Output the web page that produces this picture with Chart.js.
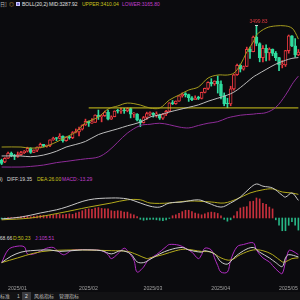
<!DOCTYPE html>
<html><head><meta charset="utf-8">
<script src="https://cdn.jsdelivr.net/npm/chart.js@4/dist/chart.umd.min.js"></script>
<style>
html,body{margin:0;padding:0;background:#0b0b0e;width:300px;height:300px;overflow:hidden;position:relative;}
.t{position:absolute;white-space:nowrap;font-family:"Liberation Sans",Arial,sans-serif;font-size:5px;line-height:6px;color:#d8d8d8;}
.c{font-family:"Noto Sans CJK SC","Liberation Sans",sans-serif;}
canvas{position:absolute;left:0;}
</style></head><body>
<div class="t c" style="left:0;top:1px;color:#bbb">日]</div>
<div class="t c" style="left:9px;top:1px;color:#d9a441">◎</div>
<div style="position:absolute;left:16px;top:1.5px;width:4px;height:4px;background:#7b6fd6;border:0.5px solid #c9c3ff;box-sizing:border-box"></div>
<div class="t" style="left:22px;top:1px;color:#e6e6e6">BOLL(20,2)</div>
<div class="t" style="left:49px;top:1px;color:#e0e0e0">MID:3287.92</div>
<div class="t" style="left:82px;top:1px;color:#c9c31c">UPPER:3410.04</div>
<div class="t" style="left:122px;top:1px;color:#c23fd0">LOWER:3165.80</div>

<canvas id="main" width="300" height="164" style="top:10px;width:300px;height:164px"></canvas>
<div id="peak" class="t" style="color:#e8383f"></div>
<div id="lead" style="position:absolute;height:0;border-top:0.6px solid #cfcfcf"></div>

<div class="t" style="left:-32px;top:176px;color:#d8d8d8">MACD(12,26,9)</div>
<div class="t" style="left:7px;top:176px;color:#d8d8d8">DIFF:19.35</div>
<div class="t" style="left:37px;top:176px;color:#c9c31c">DEA:26.00</div>
<div class="t" style="left:62px;top:176px;color:#c23fd0">MACD:-13.29</div>
<canvas id="macd" width="300" height="49" style="top:183px;width:300px;height:49px"></canvas>

<div class="t" style="left:-5px;top:235px;color:#d8d8d8">K:68.66</div>
<div class="t" style="left:13px;top:235px;color:#c9c31c">D:50.23</div>
<div class="t" style="left:35px;top:235px;color:#c23fd0">J:105.51</div>
<canvas id="kdj" width="300" height="51" style="top:242px;width:300px;height:51px"></canvas>

<div style="position:absolute;left:0;top:292px;width:300px;height:8px;background:#121214"></div>
<div style="position:absolute;left:22px;top:292px;width:9px;height:8px;background:#3a3a3e"></div>
<div class="t c" style="left:0;top:293px;color:#bdbdbd">标准</div>
<div class="t" style="left:17px;top:293px;color:#bdbdbd">1</div>
<div class="t" style="left:25px;top:293px;color:#e0e0e0">2</div>
<div class="t c" style="left:34px;top:293px;color:#bdbdbd">风格指标</div>
<div class="t c" style="left:59px;top:293px;color:#bdbdbd">管理指标</div>

<script>
const dates=['2024/12/30','2024/12/31',
'2025/01/02','2025/01/03','2025/01/06','2025/01/07','2025/01/08','2025/01/09','2025/01/10','2025/01/13','2025/01/14','2025/01/15','2025/01/16','2025/01/17','2025/01/20','2025/01/21','2025/01/22','2025/01/23','2025/01/24','2025/01/27','2025/01/28','2025/01/29','2025/01/30','2025/01/31',
'2025/02/03','2025/02/04','2025/02/05','2025/02/06','2025/02/07','2025/02/10','2025/02/11','2025/02/12','2025/02/13','2025/02/14','2025/02/17','2025/02/18','2025/02/19','2025/02/20','2025/02/21','2025/02/24','2025/02/25','2025/02/26','2025/02/27','2025/02/28',
'2025/03/03','2025/03/04','2025/03/05','2025/03/06','2025/03/07','2025/03/10','2025/03/11','2025/03/12','2025/03/13','2025/03/14','2025/03/17','2025/03/18','2025/03/19','2025/03/20','2025/03/21','2025/03/24','2025/03/25','2025/03/26','2025/03/27','2025/03/28','2025/03/31',
'2025/04/01','2025/04/02','2025/04/03','2025/04/04','2025/04/07','2025/04/08','2025/04/09','2025/04/10','2025/04/11','2025/04/14','2025/04/15','2025/04/16','2025/04/17','2025/04/21','2025/04/22','2025/04/23','2025/04/24','2025/04/25','2025/04/28','2025/04/29','2025/04/30',
'2025/05/01','2025/05/02','2025/05/05','2025/05/06','2025/05/07','2025/05/08','2025/05/09'];
const monthLabels=['2025/01','2025/02','2025/03','2025/04','2025/05'];

const openP=[2612,2600,2624,2658,2640,2636,2648,2661,2670,2690,2663,2677,2697,2715,2703,2708,2745,2755,2754,2771,2740,2763,2760,2794,
2798,2815,2843,2867,2856,2861,2908,2898,2905,2928,2882,2898,2935,2934,2939,2936,2951,2915,2916,2876,
2858,2893,2918,2920,2910,2910,2889,2916,2934,2989,2984,3001,3035,3048,3044,3023,3011,3020,3019,3058,3085,
3124,3114,3133,3114,3037,2983,2982,3082,3175,3237,3211,3229,3343,3327,3424,3381,3288,3349,3319,3344,3316,
3288,3239,3240,3334,3431,3365,3306];
const highP=[2618,2629,2665,2665,2650,2665,2670,2675,2697,2694,2680,2700,2724,2716,2711,2745,2763,2760,2786,2772,2765,2770,2800,2817,
2830,2845,2882,2870,2886,2911,2942,2910,2935,2942,2904,2937,2947,2955,2954,2956,2956,2925,2918,2882,
2900,2928,2930,2925,2930,2915,2920,2940,2990,3005,3002,3038,3055,3057,3047,3030,3035,3033,3060,3087,3128,
3149,3135,3167,3135,3055,3020,3099,3180,3245,3245,3233,3357,3358,3430,3499.83,3386,3367,3372,3352,3345,3328,
3290,3269,3336,3437,3434,3414,3341];
const lowP=[2582,2595,2621,2634,2615,2630,2643,2655,2665,2656,2661,2668,2692,2698,2697,2700,2742,2740,2751,2730,2737,2750,2753,2791,
2772,2810,2840,2834,2853,2860,2880,2864,2900,2877,2880,2897,2922,2919,2920,2930,2890,2894,2870,2832,
2856,2880,2905,2895,2895,2880,2880,2905,2930,2978,2980,2999,3027,3028,2999,3004,3010,3011,3015,3055,3076,
3100,3105,3054,3015,2970,2957,2970,3073,3170,3193,3205,3228,3283,3326,3366,3260,3260,3266,3270,3300,3268,
3202,3220,3230,3317,3360,3290,3300];
const closeP=[2590,2624,2658,2640,2636,2648,2661,2670,2690,2663,2677,2697,2715,2703,2708,2745,2755,2754,2771,2740,2763,2760,2794,2798,
2815,2843,2867,2856,2861,2908,2898,2905,2928,2882,2898,2935,2934,2939,2936,2951,2915,2916,2876,2858,
2893,2918,2920,2910,2910,2889,2916,2934,2989,2984,3001,3035,3048,3044,3023,3011,3020,3019,3058,3085,3124,
3114,3133,3114,3037,2983,2982,3082,3175,3237,3211,3229,3343,3327,3424,3381,3288,3349,3319,3344,3316,3288,
3239,3240,3334,3431,3365,3306,3324];

// Bollinger band values at these candle indices
const bollIdx  =[0,6,9,13,17,20,23,26,30,33,36,39,43,46,49,52,55,58,61,64,67,70,72,74,76,78,79,82,85,88,90,91,92];
const bollUpper=[2698,2698,2691,2698,2731,2764,2797,2857,2896,2949,2969,2988,2975,2955,2955,3008,3041,3074,3094,3153,3173,3173,3186,3239,3325,3391,3437,3483,3497,3497,3483,3455,3410.04];
const bollMid  =[2639,2639,2634,2645,2670,2698,2715,2735,2780,2800,2818,2838,2862,2896,2910,2929,2945,2960,2976,3000,3020,3041,3060,3090,3125,3160,3173,3210,3245,3270,3283,3286,3287.92];
const bollLower=[2566,2566,2570,2579,2595,2603,2612,2620,2632,2670,2730,2790,2840,2848,2855,2845,2830,2824,2840,2855,2865,2890,2900,2908,2912,2915,2918,2925,2960,3040,3110,3140,3165.80];
const supportLevel=2956, supportFrom=27;

// MACD
const diffIdx=[0,6,12,17,20,27,34,39,43,46,49,52,56,61,64,68,71,74,77,79,81,84,87,88,90,92];
const diffVal=[-1,1,5.5,9,12,20,22,21,16.5,13,12,16.5,17.6,20,16.5,12,16.5,23,33,37.4,35,33,25,23,27.5,19.35];
const deaIdx=[0,9,18,27,34,39,43,46,52,58,65,69,73,77,81,84,87,90,92];
const deaVal=[-2,0,5.5,12,16.5,20,20,16.5,16.5,18.7,17.6,16.5,21,27.5,31,32,28.6,27.5,26];
const macdHist=[-1,-1,0.5,0.5,0.5,1,1.5,2,2,1.5,2,2.5,3,3,2.5,3,3.5,4,4,3.5,4,4.5,4,5.5,
6.5,8,9.5,10,9.5,11,11.5,10.5,10,10,8,7.5,8,7.5,6.5,6.5,4.5,3.5,1.5,-1.5,
-2.5,-2,-1.5,-1.5,-2,-2.5,-3,-2,-0.5,2.5,3.5,5,7,8.5,8.5,7,5.5,4.5,3.5,4.5,6,
6.5,6,5,2.5,-1.5,-3.5,-2,2.5,7,11,12,12.5,18,18.5,22,21,16,15,12,10,-2,
-8,-14,-14,-8,-4,-8,-13.29];

// KDJ
const kIdx=[0,3,6,9,15,18,25,31,34,37,40,42,44,46,49,52,56,58,62,63,66,68,70,72,75,78,80,83,85,87,88,89,92];
const kVal=[37,63,79,85,88,82,88,85,72,85,72,40,37,50,72,88,98,88,79,85,72,40,31,56,85,98,79,56,37,21,56,69,60];
const dIdx=[0,5,10,15,25,34,39,42,45,46,50,54,57,62,65,68,71,74,78,81,84,87,88,90,92];
const dVal=[37,56,75,85,88,85,82,69,53,56,69,85,91,82,79,56,47,69,88,85,69,40,40,53,56];
const jIdx=[0,2,4,7,8,10,14,16,17,19,20,22,28,31,33,34,36,38,39,41,42,44,45,46,48,51,52,55,57,59,61,62,63,65,66,67,68,70,71,73,75,78,79,81,83,84,86,87,88,89,90,92];
const jVal=[37,88,101,101,72,72,95,98,88,69,72,88,88,85,69,53,72,95,85,47,-1,19,40,53,69,101,110,107,95,79,53,69,95,88,56,25,-1,-1,47,101,110,117,88,56,40,25,-1,-7,40,85,85,69];

const BG='#0b0b0e', UP='#e8383f', DN='#2fdc9f';
const pts=(idx,val)=>idx.map((k,n)=>({x:dates[k],y:val[n]}));
const upFlag=dates.map((d,i)=>closeP[i]>=openP[i]);
const baseScales=(min,max)=>({
  x:{type:'category',offset:true,display:false},
  y:{display:false,min:min,max:max}
});
const common={responsive:false,animation:false,devicePixelRatio:1,
  layout:{padding:0},plugins:{legend:{display:false},tooltip:{enabled:false}},
  elements:{point:{radius:0},line:{borderWidth:1,tension:0.35}}};

const main=new Chart(document.getElementById('main'),{
  type:'bar',
  data:{labels:dates,datasets:[
    {type:'line',data:pts(bollIdx,bollUpper),borderColor:'#a59c1e',order:0},
    {type:'line',data:pts(bollIdx,bollMid),borderColor:'#bdbdbd',order:0},
    {type:'line',data:pts(bollIdx,bollLower),borderColor:'#8e2c98',order:0},
    {type:'line',data:[{x:dates[supportFrom],y:supportLevel},{x:dates[dates.length-1],y:supportLevel}],borderColor:'#d2c81c',tension:0,order:0},
    {type:'bar',data:dates.map((d,i)=>[openP[i],closeP[i]]),grouped:false,barThickness:3,minBarLength:1,
      backgroundColor:upFlag.map(u=>u?BG:DN),borderColor:upFlag.map(u=>u?UP:DN),borderWidth:1,borderSkipped:false,order:1},
    {type:'bar',data:dates.map((d,i)=>[lowP[i],highP[i]]),grouped:false,barThickness:1,
      backgroundColor:upFlag.map(u=>u?UP:DN),order:2}
  ]},
  options:{...common,scales:baseScales(2520,3602)}
});
// peak label positioned through the chart's own scales
(function(){
  let pk=0; highP.forEach((h,i)=>{if(h>highP[pk])pk=i;});
  const px=main.scales.x.getPixelForValue(pk), py=main.scales.y.getPixelForValue(highP[pk]);
  const el=document.getElementById('peak');
  el.textContent=highP[pk].toFixed(2);
  el.style.left=(px-7)+'px'; el.style.top=(10+py-7)+'px';
  const ld=document.getElementById('lead');
  ld.style.left=(px-1)+'px'; ld.style.top=(10+py-0.5)+'px'; ld.style.width='3px';
})();

new Chart(document.getElementById('macd'),{
  type:'bar',
  data:{labels:dates,datasets:[
    {type:'line',data:pts(diffIdx,diffVal),borderColor:'#c8c8c8',order:0},
    {type:'line',data:pts(deaIdx,deaVal),borderColor:'#b3aa1c',order:0},
    {type:'bar',data:macdHist,barThickness:1,backgroundColor:macdHist.map(v=>v>=0?'#c8303c':'#27b585'),order:1}
  ]},
  options:{...common,scales:baseScales(-15.4,38.5)}
});

const monthStart=dates.map((d,i)=>i>0&&d.slice(0,7)!==dates[i-1].slice(0,7)?monthLabels.indexOf(d.slice(0,7)):-1);
new Chart(document.getElementById('kdj'),{
  type:'line',
  data:{labels:dates,datasets:[
    {data:pts(kIdx,kVal),borderColor:'#cfcfcf'},
    {data:pts(dIdx,dVal),borderColor:'#b3aa1c'},
    {data:pts(jIdx,jVal),borderColor:'#b12dc2'}
  ]},
  options:{...common,scales:{
    x:{type:'category',offset:true,grid:{display:false},border:{display:false},
       ticks:{autoSkip:false,maxRotation:0,minRotation:0,align:'start',padding:1,color:'#a0a0a0',
         font:{size:5.2,family:'Liberation Sans'},
         callback:(v,i)=>monthStart[i]>=0?monthLabels[monthStart[i]]:''}},
    y:{display:false,min:-20,max:120}
  }}
});
</script>
</body></html>
